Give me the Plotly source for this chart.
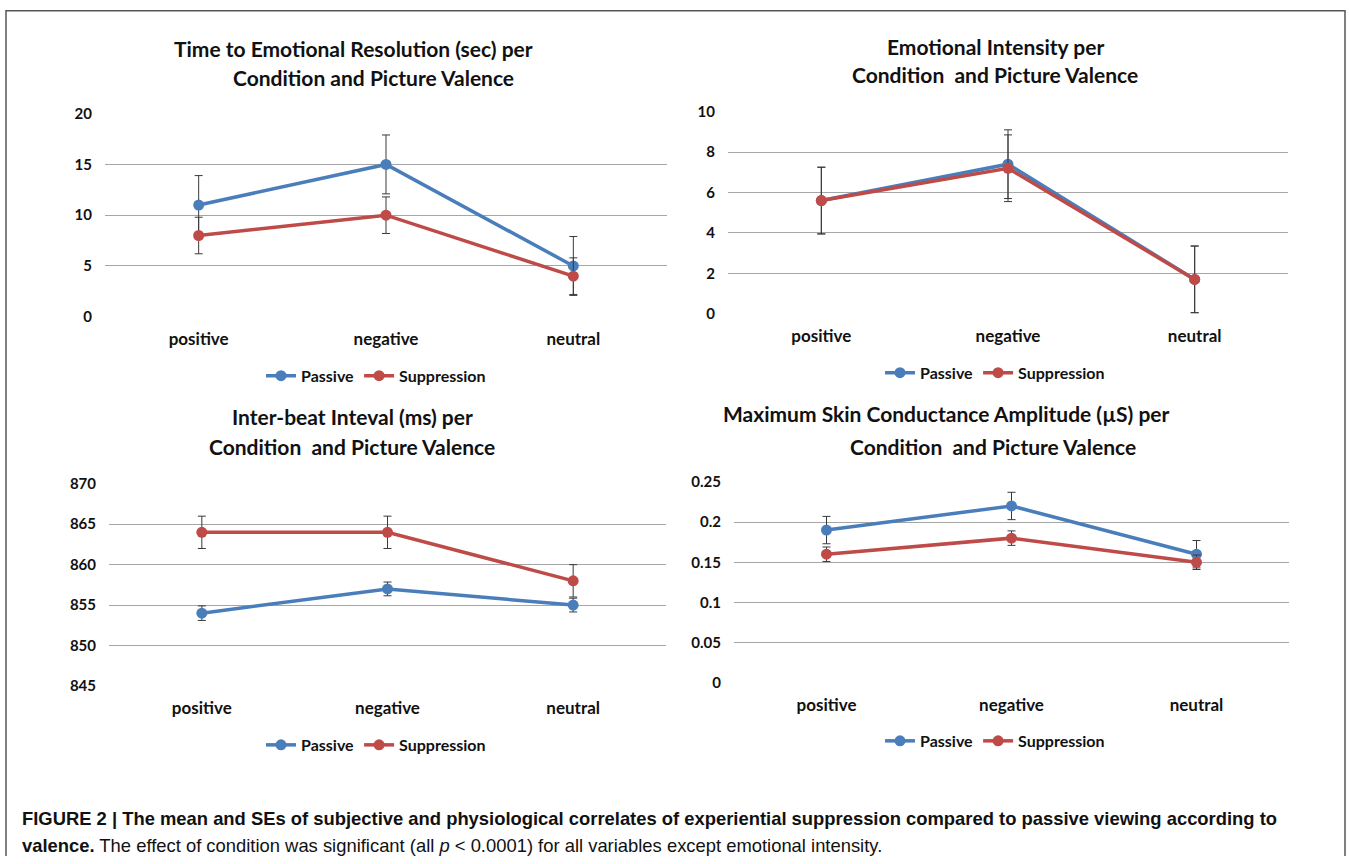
import plotly.graph_objects as go

W, H = 1349, 864

categories = ["positive", "negative", "neutral"]
series_names = ["Passive", "Suppression"]

# Panel 1: Time to Emotional Resolution (sec)
res_passive = [11, 15, 5]
res_passive_se = [2.9, 2.9, 2.9]
res_supp = [8, 10, 4]
res_supp_se = [1.8, 1.8, 1.8]

# Panel 2: Emotional Intensity
int_passive = [5.6, 7.4, 1.7]
int_passive_se = [1.65, 1.7, 1.65]
int_supp = [5.6, 7.2, 1.7]
int_supp_se = [1.65, 1.65, 1.65]

# Panel 3: Inter-beat interval (ms)
ibi_passive = [854, 857, 855]
ibi_passive_se = [0.9, 0.85, 0.85]
ibi_supp = [864, 864, 858]
ibi_supp_se = [2, 2, 2]

# Panel 4: Max skin conductance amplitude (uS)
scr_passive = [0.19, 0.22, 0.16]
scr_passive_se = [0.017, 0.017, 0.017]
scr_supp = [0.16, 0.18, 0.15]
scr_supp_se = [0.009, 0.009, 0.009]

y_ticks_1 = [0, 5, 10, 15, 20]
y_ticks_2 = [0, 2, 4, 6, 8, 10]
y_ticks_3 = [845, 850, 855, 860, 865, 870]
y_ticks_4 = [0, 0.05, 0.1, 0.15, 0.2, 0.25]
y_tick_text_4 = ["0", "0.05", "0.1", "0.15", "0.2", "0.25"]

BLUE = "#4A7EBB"
RED = "#BE4B48"
FONT = "Lato"

# the photographed page shows the figure slightly squeezed vertically;
# target pixel positions are pre-compensated for that
V_OFF, V_SCALE = 9.4, 0.9787


def px(x):
    return x / W


def py(y):
    f = (y - V_OFF) / V_SCALE
    return 1 - f / H


panels = [
    dict(p=res_passive, pe=res_passive_se, s=res_supp, se=res_supp_se,
         ticks=y_ticks_1, ttext=[str(t) for t in y_ticks_1],
         box=(105, 667, 113, 316), legend_xy=(376, 375),
         titles=[("Time to Emotional Resolution (sec) per", 353, 48),
                 ("Condition and Picture Valence", 373, 77)]),
    dict(p=int_passive, pe=int_passive_se, s=int_supp, se=int_supp_se,
         ticks=y_ticks_2, ttext=[str(t) for t in y_ticks_2],
         box=(728, 1288, 111, 313), legend_xy=(995, 372),
         titles=[("Emotional Intensity per", 995, 46),
                 ("Condition  and Picture Valence", 995, 74)]),
    dict(p=ibi_passive, pe=ibi_passive_se, s=ibi_supp, se=ibi_supp_se,
         ticks=y_ticks_3, ttext=[str(t) for t in y_ticks_3],
         box=(109, 666, 483, 685), legend_xy=(376, 744),
         titles=[("Inter-beat Inteval (ms) per", 352, 416),
                 ("Condition  and Picture Valence", 352, 446)]),
    dict(p=scr_passive, pe=scr_passive_se, s=scr_supp, se=scr_supp_se,
         ticks=y_ticks_4, ttext=y_tick_text_4,
         box=(734, 1289, 481, 682), legend_xy=(995, 740),
         titles=[("Maximum Skin Conductance Amplitude (µS) per", 946, 413),
                 ("Condition  and Picture Valence", 993, 446)]),
]

fig = go.Figure()
annotations = []
layout_updates = {}

for i, pn in enumerate(panels, start=1):
    xa = "x" if i == 1 else f"x{i}"
    ya = "y" if i == 1 else f"y{i}"
    lg = "legend" if i == 1 else f"legend{i}"
    for name, vals, errs, col in [("Passive", pn["p"], pn["pe"], BLUE),
                                  ("Suppression", pn["s"], pn["se"], RED)]:
        fig.add_trace(go.Scatter(
            x=[0, 1, 2], y=vals, name=name, mode="lines+markers",
            line=dict(color=col, width=3.5),
            marker=dict(color=col, size=11),
            error_y=dict(type="data", array=errs, visible=True,
                         color="#3a3a3a", thickness=1, width=4),
            xaxis=xa, yaxis=ya, legend=lg, showlegend=True,
        ))
    x0, x1, y0, y1 = pn["box"]
    lo, hi = pn["ticks"][0], pn["ticks"][-1]
    xkey = "xaxis" if i == 1 else f"xaxis{i}"
    ykey = "yaxis" if i == 1 else f"yaxis{i}"
    layout_updates[xkey] = dict(
        domain=[px(x0), px(x1)], range=[-0.5, 2.5], anchor=ya,
        tickvals=[0, 1, 2], ticktext=categories, showgrid=False,
        zeroline=False, showline=False, ticks="",
        tickfont=dict(family=FONT, size=17, color="#111111", weight="bold"),
        ticklabelstandoff=10, fixedrange=True,
    )
    layout_updates[ykey] = dict(
        domain=[py(y1), py(y0)], range=[lo, hi], anchor=xa,
        tickvals=pn["ticks"], ticktext=pn["ttext"], showgrid=True,
        gridcolor="#A6A6A6", gridwidth=1, zeroline=False, showline=False,
        ticks="", tickfont=dict(family=FONT, size=15, color="#111111", weight="bold"),
        ticklabelstandoff=12, fixedrange=True,
    )
    lx, ly = pn["legend_xy"]
    layout_updates[lg] = dict(
        x=px(lx), y=py(ly), xanchor="center", yanchor="middle",
        orientation="h", bgcolor="rgba(0,0,0,0)",
        font=dict(family=FONT, size=16, color="#111111", weight="bold"),
        itemwidth=30, tracegroupgap=0,
    )
    for text, tx, ty in pn["titles"]:
        annotations.append(dict(
            text=text, x=px(tx), y=py(ty), xref="paper", yref="paper",
            xanchor="center", yanchor="middle", showarrow=False,
            font=dict(family=FONT, size=21, color="#111111", weight="bold"),
        ))

CAP_FONT = "Liberation Sans Narrow, Liberation Sans, Arial"
annotations.append(dict(
    text="FIGURE 2 | The mean and SEs of subjective and physiological correlates of experiential suppression compared to passive viewing according to",
    x=px(20), y=py(818), xref="paper", yref="paper", xanchor="left", yanchor="middle",
    showarrow=False, font=dict(family=CAP_FONT, size=18.4, color="#111111", weight="bold"),
))
annotations.append(dict(
    text="<b>valence.</b> The effect of condition was significant (all <i>p</i> &lt; 0.0001) for all variables except emotional intensity.",
    x=px(20), y=py(845), xref="paper", yref="paper", xanchor="left", yanchor="middle",
    showarrow=False, font=dict(family=CAP_FONT, size=18.4, color="#111111"),
))

top_y = 1 - 0.8 / H
shapes = [
    dict(type="line", xref="paper", yref="paper", x0=px(6), x1=px(1345),
         y0=top_y, y1=top_y, line=dict(color="#555555", width=1.5)),
    dict(type="line", xref="paper", yref="paper", x0=px(6), x1=px(6), y0=1, y1=0,
         line=dict(color="#555555", width=1.5)),
    dict(type="line", xref="paper", yref="paper", x0=px(1345), x1=px(1345), y0=1, y1=0,
         line=dict(color="#555555", width=1.5)),
]

fig.update_layout(
    width=W, height=H, margin=dict(l=0, r=0, t=0, b=0),
    paper_bgcolor="white", plot_bgcolor="white",
    annotations=annotations, shapes=shapes,
    **layout_updates,
)

fig.write_html(
    "out.html",
    config={"displayModeBar": False},
    post_script="document.documentElement.style.margin='0';"
                "document.body.style.margin='0';"
                "document.body.style.overflow='hidden';"
                "var d=document.getElementById('{plot_id}');"
                "d.style.position='fixed';d.style.top='0px';d.style.left='0px';",
)
